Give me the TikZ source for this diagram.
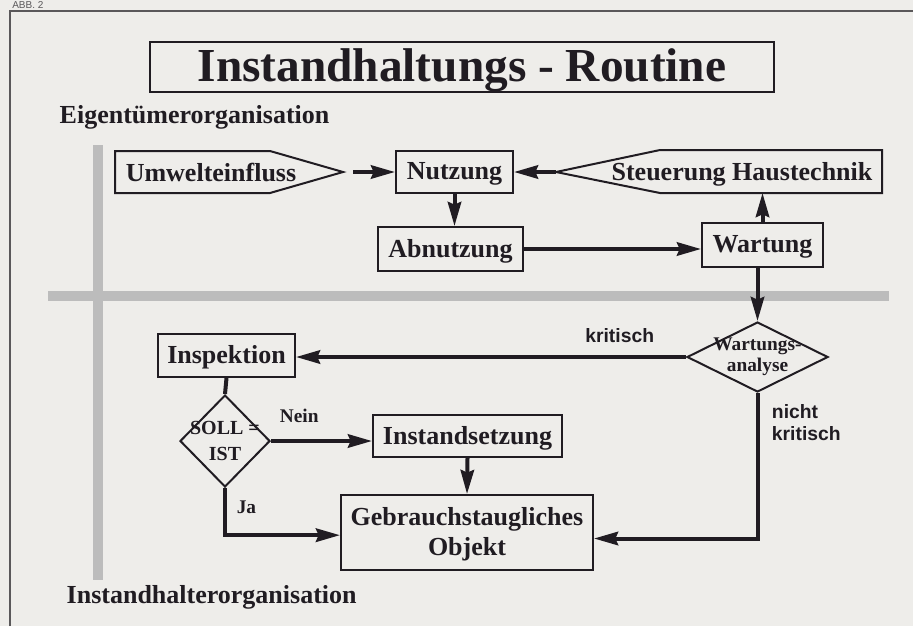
\documentclass[tikz,border=0pt]{standalone}
\usepackage{fontspec}
\setmainfont{Liberation Serif}
\setsansfont{Liberation Sans}
\usepackage{tikz}
\usetikzlibrary{shapes.geometric,arrows.meta,positioning,calc}
\definecolor{paperbg}{RGB}{238,237,234}
\definecolor{ink}{RGB}{32,28,34}
\definecolor{lanegray}{RGB}{188,188,188}
\definecolor{framegray}{RGB}{90,88,90}

\begin{document}
\begin{tikzpicture}[x=0.75pt,y=-0.75pt,
    every node/.style={text=ink, font=\bfseries\fontsize{19.5}{22.5}\selectfont},
    box/.style={draw=ink, line width=1.5pt, inner sep=0pt, text depth=1pt},
    dia/.style={draw=ink, line width=1.5pt, diamond, inner sep=0pt},
    arr/.style={draw=ink, line width=3pt, -{Stealth[length=18pt,width=10pt,inset=2pt]}},
    link/.style={draw=ink, line width=3pt},
    smalltxt/.style={font=\bfseries\fontsize{14.5}{15.5}\selectfont},
    lab/.style={font=\sffamily\bfseries\fontsize{14.5}{16.5}\selectfont}]
    \useasboundingbox (0,0) rectangle (913,626);
    \fill[paperbg] (0,0) rectangle (913,626);
    \draw[framegray, line width=0.8pt] (10,626) -- (10,11) -- (913,11);
    \node[anchor=base west, inner sep=0pt, font=\sffamily\fontsize{7.5}{8}\selectfont, text=framegray] (abb) at (12,8.5) {ABB. 2};
    % lanes
    \draw[lanegray, line width=7.5pt] (98,145) -- (98,580);
    \draw[lanegray, line width=7.5pt] (48,296) -- (889,296);
    \node[box, text depth=3pt, minimum width=468pt, minimum height=37.5pt,
          font=\bfseries\fontsize{35.5}{38}\selectfont] (title) at (462,67) {Instandhaltungs - Routine};
    \node[anchor=base west] (eig) at (55,123) {Eigentümerorganisation};
    \node[anchor=base west] (ih) at (62,603) {Instandhalterorganisation};
    % upper lane
    \draw[box] (115,151) -- (270,151) -- (343,172) coordinate (umwtip) -- (270,193) -- (115,193) -- cycle;
    \node (umw) at (211,172) {Umwelteinfluss};
    \draw[box] (556,172) coordinate (steutip) -- (660,150) -- (882,150) -- (882,193) coordinate (steubr) -- (660,193) -- cycle;
    \node[text depth=1pt] (steu) at (742,172) {Steuerung Haustechnik};
    \node[box, minimum width=87.75pt, minimum height=31.5pt] (nutz) at (454.5,172) {Nutzung};
    \node[box, minimum width=108.75pt, minimum height=33pt] (abn) at (450.5,249) {Abnutzung};
    \node[box, minimum width=90.75pt, minimum height=33pt] (wart) at (762.5,245) {Wartung};
    % lower lane
    \node[dia, minimum width=105.75pt, minimum height=52.5pt] (wa) at (757.5,357) {};
    \node[smalltxt, align=center] (watxt) at (wa) {Wartungs-\\analyse};
    \node[box, minimum width=102.75pt, minimum height=32.25pt] (insp) at (226.5,355.5) {Inspektion};
    \node[dia, minimum width=67.5pt, minimum height=69pt] (soll) at (225,441) {};
    \node[align=center, font=\bfseries\fontsize{15}{19}\selectfont] (solltxt) at (soll) {SOLL =\\IST};
    \node[box, minimum width=141.75pt, minimum height=31.5pt] (inst) at (467.5,436) {Instandsetzung};
    \node[box, minimum width=189pt, minimum height=56.25pt, align=center] (gebr) at (467,532.5) {Gebrauchstaugliches\\Objekt};
    % connectors
    \draw[arr, shorten <=7.5pt] (umwtip) to (nutz.west);
    \draw[arr] (steutip) to (nutz.east);
    \draw[arr] (nutz.south) to (nutz.south |- abn.north);
    \draw[arr] (abn.east) to (abn.east -| wart.west);
    \draw[arr] (wart.north) to (wart.north |- steubr);
    \draw[arr] (wa.north |- wart.south) to (wa.north);
    \draw[arr] (wa.west) to node[lab, pos=0.17, above=6pt] {kritisch} (wa.west -| insp.east);
    \draw[link] (insp.south) to (soll.north);
    \draw[arr] (soll.east) to node[smalltxt, pos=0.28, above=9pt] {Nein} (soll.east -| inst.west);
    \draw[arr] (inst.south) to (gebr.north);
    \draw[arr] (soll.south) |- node[smalltxt, pos=0.2, right=4pt] {Ja} ([yshift=-2pt]gebr.west);
    \draw[arr] (wa.south) |- node[lab, pos=0.1, right=6pt, align=left] {nicht\\kritisch} ([yshift=-4.5pt]gebr.east);
\end{tikzpicture}
\end{document}
